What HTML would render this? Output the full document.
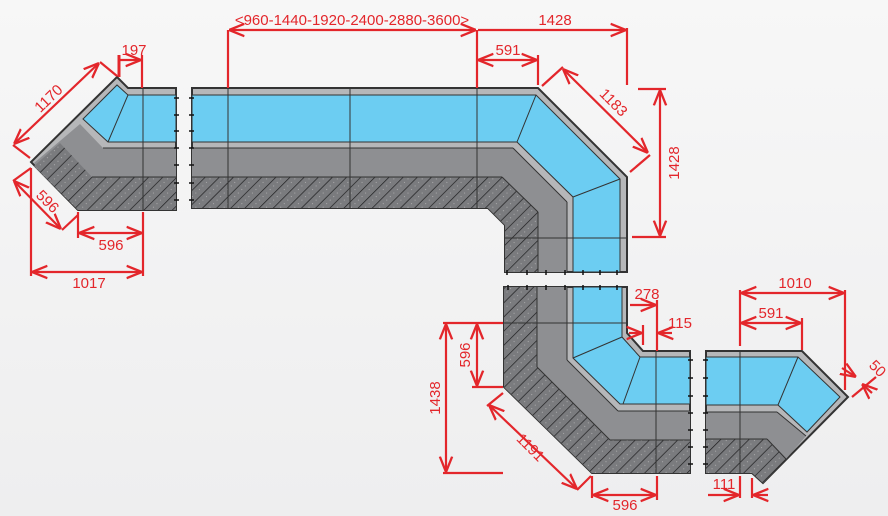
<!DOCTYPE html>
<html><head><meta charset="utf-8"><style>
html,body{margin:0;padding:0;background:#f3f3f4;}
svg{display:block;}
text{font-family:"Liberation Sans",Arial,sans-serif;font-size:15px;fill:#e3262b;}
</style></head><body>
<svg width="888" height="516" viewBox="0 0 888 516" xmlns="http://www.w3.org/2000/svg">
<defs>
<linearGradient id="bg" x1="0" y1="0" x2="0" y2="1"><stop offset="0" stop-color="#f7f7f7"/><stop offset="1" stop-color="#eeeeef"/></linearGradient>
<pattern id="h" width="10" height="10" patternUnits="userSpaceOnUse" patternTransform="rotate(45)">
<rect width="10" height="10" fill="#7a7b7e"/>
<line x1="0" y1="0" x2="0" y2="10" stroke="#1d1d1f" stroke-width="1.4"/>
<circle cx="5" cy="3" r="0.5" fill="#bdbdbd"/><circle cx="5" cy="8" r="0.5" fill="#bdbdbd"/>
</pattern>
<marker id="a" viewBox="0 0 10 10" refX="10" refY="5" markerWidth="7" markerHeight="7" orient="auto-start-reverse"><path d="M0,1 L10,5 L0,9" fill="none" stroke="#e3262b" stroke-width="1.5"/></marker>
</defs>
<rect width="888" height="516" fill="url(#bg)"/>
<g stroke="#333" stroke-width="1">
<!-- left corner -->
<polygon points="117,77 128,88 176,88 176,210 78,210 31,162" fill="#b6b7b9" stroke-width="2"/>
<polygon points="80,124 103,148 176,148 176,210 78,210 34,163" fill="#8e8f92" stroke="none"/>
<polygon points="60,143 92,177 176,177 176,210 78,210 34,166" fill="url(#h)" stroke="none"/>
<polygon points="128,95 176,95 176,142 108,142 83,119 117,85" fill="#6ccdf2"/>
<line x1="128" y1="95" x2="108" y2="142"/>
<line x1="143" y1="88" x2="143" y2="210"/>
<line x1="103" y1="148" x2="176" y2="148"/><line x1="92" y1="177" x2="176" y2="177"/>
<!-- middle + corner -->
<polygon points="192,88 538,88 627,177 627,272 505,272 505,225 488,208 192,208" fill="#b6b7b9" stroke-width="2"/>
<polygon points="192,148 513,148 567,202 567,272 505,272 505,225 488,208 192,208" fill="#8e8f92" stroke="none"/>
<polygon points="192,177 502,177 538,212 538,272 505,272 505,225 488,208 192,208" fill="url(#h)" stroke="none"/>
<polygon points="192,95 536,95 620,179 620,272 573,272 573,197 517,142 192,142" fill="#6ccdf2"/>
<line x1="536" y1="95" x2="517" y2="142"/><line x1="620" y1="179" x2="573" y2="197"/>
<line x1="192" y1="148" x2="513" y2="148"/><line x1="513" y1="148" x2="567" y2="202"/><line x1="567" y1="202" x2="567" y2="272"/>
<line x1="192" y1="177" x2="502" y2="177"/><line x1="502" y1="177" x2="538" y2="212"/><line x1="538" y1="212" x2="538" y2="272"/>
<line x1="228" y1="88" x2="228" y2="208"/><line x1="350" y1="88" x2="350" y2="208"/><line x1="477" y1="88" x2="477" y2="208"/>
<line x1="505" y1="238" x2="627" y2="238"/>
<!-- bottom-left corner -->
<polygon points="504,287 627,287 627,333 643,351 690,351 690,473 592,473 504,387" fill="#b6b7b9" stroke-width="2"/>
<polygon points="504,287 567,287 567,360 618,411 690,411 690,473 592,473 504,387" fill="#8e8f92" stroke="none"/>
<polygon points="504,287 537,287 537,367 610,440 690,440 690,473 592,473 504,387" fill="url(#h)" stroke="none"/>
<polygon points="573,287 622,287 622,337 640,357 690,357 690,404 620,404 573,358" fill="#6ccdf2"/>
<line x1="573" y1="358" x2="622" y2="337"/><line x1="640" y1="357" x2="623" y2="404"/>
<line x1="537" y1="287" x2="537" y2="367"/><line x1="537" y1="367" x2="610" y2="440"/><line x1="610" y1="440" x2="690" y2="440"/>
<line x1="567" y1="287" x2="567" y2="360"/><line x1="567" y1="360" x2="618" y2="411"/><line x1="618" y1="411" x2="690" y2="411"/>
<line x1="656" y1="351" x2="656" y2="473"/><line x1="504" y1="323" x2="627" y2="323"/>
<!-- right corner -->
<polygon points="706,351 802,351 848,397 763,483 752,473 706,473" fill="#b6b7b9" stroke-width="2"/>
<polygon points="706,412 777,412 806,436 786,459 767,439 706,439" fill="#8e8f92" stroke="none"/>
<polygon points="706,439 767,439 786,459 763,483 752,473 706,473" fill="url(#h)" stroke="none"/>
<polygon points="706,357 798,357 840,397 807,432 778,405 706,405" fill="#6ccdf2"/>
<line x1="798" y1="357" x2="778" y2="405"/>
<line x1="706" y1="412" x2="777" y2="412"/><line x1="777" y1="412" x2="806" y2="436"/>
<line x1="706" y1="439" x2="767" y2="439"/><line x1="767" y1="439" x2="786" y2="459"/>
<line x1="740" y1="351" x2="740" y2="473"/>
</g>
<!-- connector ticks -->
<g stroke="#111" stroke-width="1.5">
<path d="M174,98h5M174,115h5M174,131h5M174,148h5M174,165h5M174,183h5M174,200h5"/>
<path d="M189,98h5M189,115h5M189,131h5M189,148h5M189,165h5M189,183h5M189,200h5"/>
<path d="M507,270v5M527,270v5M546,270v5M565,270v5M583,270v5M600,270v5M617,270v5"/>
<path d="M508,285v5M527,285v5M546,285v5M565,285v5M583,285v5M600,285v5M617,285v5"/>
<path d="M688,360h5M688,378h5M688,396h5M688,413h5M688,430h5M688,447h5M688,464h5"/>
<path d="M703,360h5M703,378h5M703,396h5M703,413h5M703,430h5M703,447h5M703,464h5"/>
</g>
<!-- dimensions -->
<g stroke="#e3262b" stroke-width="2.2" fill="none">
<line x1="228" y1="30" x2="228" y2="88"/><line x1="477" y1="30" x2="477" y2="88"/><line x1="627" y1="28" x2="627" y2="85"/>
<line x1="229" y1="30" x2="476" y2="30" marker-start="url(#a)" marker-end="url(#a)"/>
<line x1="478" y1="30" x2="626" y2="30" marker-end="url(#a)"/>
<line x1="538" y1="55" x2="538" y2="85"/>
<line x1="478" y1="60" x2="537" y2="60" marker-start="url(#a)" marker-end="url(#a)"/>
<line x1="119" y1="55" x2="119" y2="77" stroke-width="3"/><line x1="142" y1="55" x2="142" y2="88"/>
<line x1="120" y1="60" x2="141" y2="60" marker-end="url(#a)"/>
<line x1="100" y1="62" x2="117" y2="76"/><line x1="13" y1="145" x2="30" y2="158"/>
<line x1="14" y1="144" x2="99" y2="63" marker-start="url(#a)" marker-end="url(#a)"/>
<line x1="31" y1="168" x2="13" y2="181"/><line x1="78" y1="215" x2="62" y2="230"/>
<line x1="14" y1="181" x2="61" y2="229" marker-start="url(#a)" marker-end="url(#a)"/>
<line x1="78" y1="212" x2="78" y2="238"/><line x1="143" y1="212" x2="143" y2="276"/>
<line x1="79" y1="233" x2="142" y2="233" marker-start="url(#a)" marker-end="url(#a)"/>
<line x1="31" y1="168" x2="31" y2="276"/>
<line x1="32" y1="272" x2="142" y2="272" marker-start="url(#a)" marker-end="url(#a)"/>
<line x1="542" y1="86" x2="563" y2="67"/><line x1="630" y1="172" x2="650" y2="155"/>
<line x1="563" y1="69" x2="648" y2="153" marker-start="url(#a)" marker-end="url(#a)"/>
<line x1="638" y1="89" x2="666" y2="89"/><line x1="632" y1="237" x2="666" y2="237"/>
<line x1="660" y1="90" x2="660" y2="236" marker-start="url(#a)" marker-end="url(#a)"/>
<line x1="657" y1="300" x2="657" y2="351"/>
<line x1="630" y1="305" x2="656" y2="305" marker-end="url(#a)"/>
<line x1="643" y1="325" x2="643" y2="345"/>
<line x1="629" y1="333" x2="642" y2="333" marker-end="url(#a)"/>
<line x1="672" y1="333" x2="658" y2="333" marker-end="url(#a)"/>
<line x1="740" y1="290" x2="740" y2="346"/><line x1="845" y1="290" x2="845" y2="390"/>
<line x1="741" y1="293" x2="844" y2="293" marker-start="url(#a)" marker-end="url(#a)"/>
<line x1="802" y1="318" x2="802" y2="350"/>
<line x1="741" y1="323" x2="801" y2="323" marker-start="url(#a)" marker-end="url(#a)"/>
<line x1="842" y1="368" x2="856" y2="377" marker-end="url(#a)"/>
<line x1="852" y1="397" x2="876" y2="377"/>
<line x1="872" y1="393" x2="862" y2="384" marker-end="url(#a)"/>
<line x1="740" y1="476" x2="740" y2="498"/><line x1="752" y1="478" x2="752" y2="498"/>
<line x1="708" y1="495" x2="739" y2="495" marker-end="url(#a)"/>
<line x1="768" y1="495" x2="753" y2="495" marker-end="url(#a)"/>
<line x1="592" y1="476" x2="592" y2="498"/><line x1="657" y1="476" x2="657" y2="500"/>
<line x1="593" y1="495" x2="656" y2="495" marker-start="url(#a)" marker-end="url(#a)"/>
<line x1="503" y1="393" x2="487" y2="406"/><line x1="591" y1="476" x2="577" y2="490"/>
<line x1="489" y1="405" x2="577" y2="489" marker-start="url(#a)" marker-end="url(#a)"/>
<line x1="443" y1="323" x2="503" y2="323"/><line x1="443" y1="473" x2="503" y2="473"/>
<line x1="446" y1="324" x2="446" y2="472" marker-start="url(#a)" marker-end="url(#a)"/>
<line x1="472" y1="387" x2="503" y2="387"/>
<line x1="477" y1="324" x2="477" y2="386" marker-start="url(#a)" marker-end="url(#a)"/>
</g>
<g text-anchor="middle">
<text x="352" y="25">&lt;960-1440-1920-2400-2880-3600&gt;</text>
<text x="555" y="25">1428</text>
<text x="508" y="55">591</text>
<text x="134" y="55">197</text>
<text x="52" y="102" transform="rotate(-44 52 102)">1170</text>
<text x="44" y="205" transform="rotate(45 44 205)">596</text>
<text x="111" y="250">596</text>
<text x="89" y="288">1017</text>
<text x="610" y="106" transform="rotate(45 610 106)">1183</text>
<text x="679" y="163" transform="rotate(-90 679 163)">1428</text>
<text x="647" y="299">278</text>
<text x="680" y="328">115</text>
<text x="795" y="288">1010</text>
<text x="771" y="318">591</text>
<text x="874" y="372" transform="rotate(45 874 372)">50</text>
<text x="724" y="489">111</text>
<text x="625" y="510">596</text>
<text x="527" y="451" transform="rotate(45 527 451)">1191</text>
<text x="440" y="398" transform="rotate(-90 440 398)">1438</text>
<text x="470" y="355" transform="rotate(-90 470 355)">596</text>
</g>
</svg>
</body></html>
